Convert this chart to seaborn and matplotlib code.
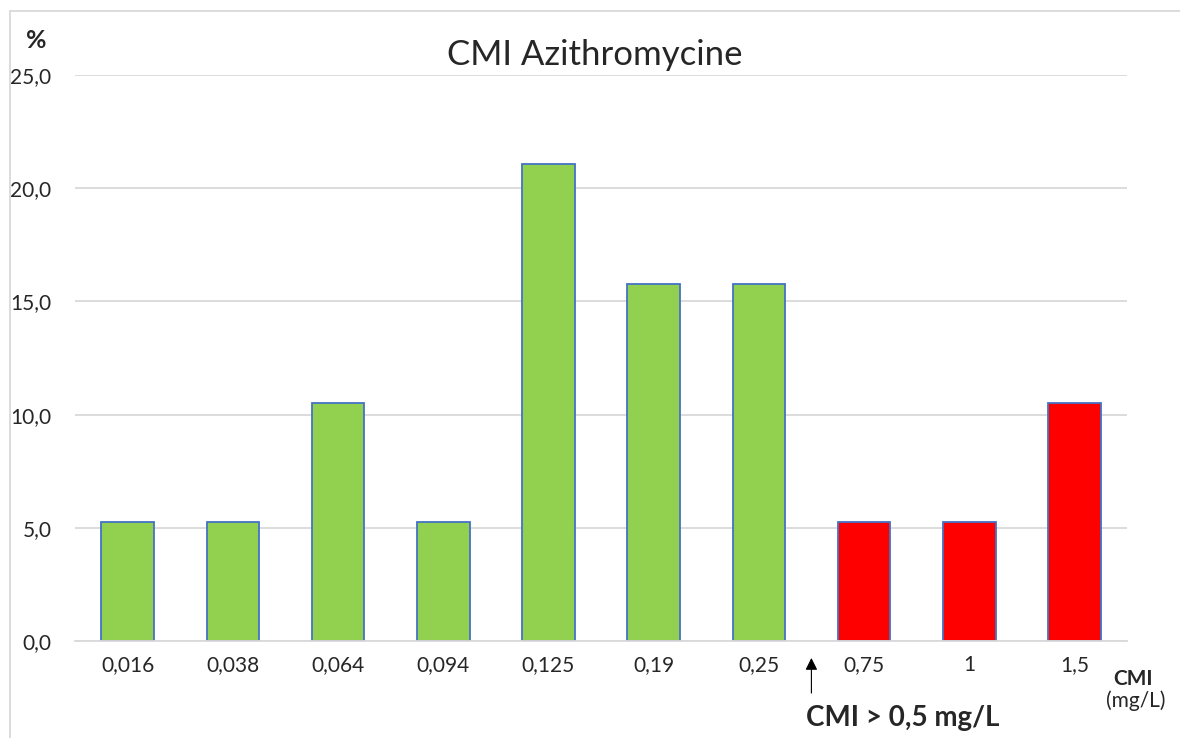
import matplotlib
matplotlib.use("Agg")
import matplotlib.pyplot as plt
import seaborn as sns
import pandas as pd
from matplotlib.patches import Rectangle

# data
cmi_labels = ["0,016", "0,038", "0,064", "0,094", "0,125", "0,19", "0,25", "0,75", "1", "1,5"]
pct = [5.26, 5.26, 10.53, 5.26, 21.05, 15.79, 15.79, 5.26, 5.26, 10.53]
status = ["S"] * 7 + ["R"] * 3
y_ticks = [0, 5, 10, 15, 20, 25]
y_tick_labels = ["0,0", "5,0", "10,0", "15,0", "20,0", "25,0"]

df = pd.DataFrame({"cmi": cmi_labels, "pct": pct, "status": status})

sns.set_style("white")
plt.rcParams['font.family'] = ['Lato', 'DejaVu Sans']

fig = plt.figure(figsize=(11.8, 7.38), dpi=100)
ax = fig.add_axes([75/1180, 97/738, 1052/1180, 566/738])

sns.barplot(data=df, x="cmi", y="pct", hue="status", dodge=False, width=0.5,
            palette={"S": "#92D050", "R": "#FF0000"}, saturation=1, edgecolor="#4472C4",
            linewidth=1.3, legend=False, ax=ax)

ax.set_ylim(0, 25)
ax.set_xlim(-0.5, 9.5)
ax.set_yticks(y_ticks)
ax.set_yticklabels(y_tick_labels, fontsize=15)
ax.tick_params(axis="x", labelsize=15, length=0, pad=10)
ax.tick_params(axis="y", length=0, pad=17)
ax.yaxis.grid(True, color="#D9D9D9", linewidth=1.3)
ax.set_axisbelow(True)
for s in ["top", "right", "left"]:
    ax.spines[s].set_visible(False)
ax.spines["bottom"].set_color("#D9D9D9")
ax.spines["bottom"].set_linewidth(1.3)
ax.set_xlabel("")
ax.set_ylabel("")

fig.text(595/1180, 1 - 55/738, "CMI Azithromycine", fontsize=25, ha="center", va="center")
fig.text(36/1180, 1 - 40/738, "%", fontsize=18, fontweight="bold", ha="center", va="center")
fig.text(1133/1180, 1 - 679/738, "CMI", fontsize=15, fontweight="bold", ha="center", va="center")
fig.text(1136/1180, 1 - 701/738, "(mg/L)", fontsize=15, ha="center", va="center")

# arrow marking the breakpoint
ax.annotate("", xy=(6.5, -0.75), xytext=(6.5, -2.3), annotation_clip=False,
            arrowprops=dict(arrowstyle="-|>", color="black", lw=0.8, mutation_scale=18,
                            shrinkA=0, shrinkB=0))
fig.text(903/1180, 1 - 718/738, "CMI > 0,5 mg/L", fontsize=20, fontweight="bold",
         ha="center", va="center")

# light frame around the chart
fig.patches.append(Rectangle((10/1180, -0.1), 1.2, 1 - 11/738 + 0.1, transform=fig.transFigure,
                             fill=False, edgecolor="#D9D9D9", linewidth=1.3))

fig.savefig("out.png", dpi=100)
